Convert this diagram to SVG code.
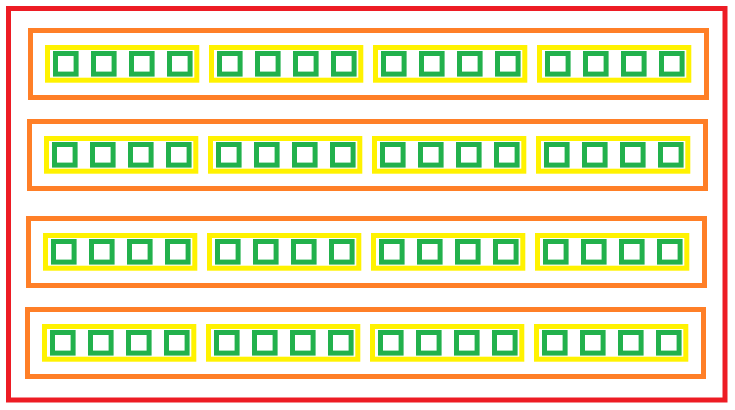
<svg xmlns="http://www.w3.org/2000/svg" xmlns:xlink="http://www.w3.org/1999/xlink" width="735" height="410" viewBox="0 0 735 410">
  <style>
    .red{fill:none;stroke:#ED1C24;stroke-width:5}
    .orange{fill:none;stroke:#FF7F27;stroke-width:5}
    .yellow{fill:none;stroke:#FFF200;stroke-width:5}
    .green{fill:none;stroke:#22B14C;stroke-width:5}
  </style>
  <defs>
    <g id="block">
      <rect class="yellow" x="0" y="0" width="149.3" height="32.7"/>
      <rect class="green" x="8" y="6" width="20.6" height="20.6"/>
      <rect class="green" x="46" y="6" width="20.6" height="20.6"/>
      <rect class="green" x="84" y="6" width="20.6" height="20.6"/>
      <rect class="green" x="122" y="6" width="20.6" height="20.6"/>
    </g>
    <g id="rowtpl">
      <rect class="orange" x="30.5" y="30.5" width="676" height="67"/>
      <use xlink:href="#block" href="#block" x="47.5" y="47.5"/>
      <use xlink:href="#block" href="#block" x="211.5" y="47.5"/>
      <use xlink:href="#block" href="#block" x="375.5" y="47.5"/>
      <use xlink:href="#block" href="#block" x="539.5" y="47.5"/>
    </g>
  </defs>
  <rect id="outer" class="red" x="8.5" y="8.5" width="716.5" height="391.5"/>
  <g id="row1"><use xlink:href="#rowtpl" href="#rowtpl" x="0" y="0"/></g>
  <g id="row2"><use xlink:href="#rowtpl" href="#rowtpl" x="-1" y="91"/></g>
  <g id="row3"><use xlink:href="#rowtpl" href="#rowtpl" x="-2" y="188"/></g>
  <g id="row4"><use xlink:href="#rowtpl" href="#rowtpl" x="-3" y="279"/></g>
  <g id="connectors"/>
</svg>
